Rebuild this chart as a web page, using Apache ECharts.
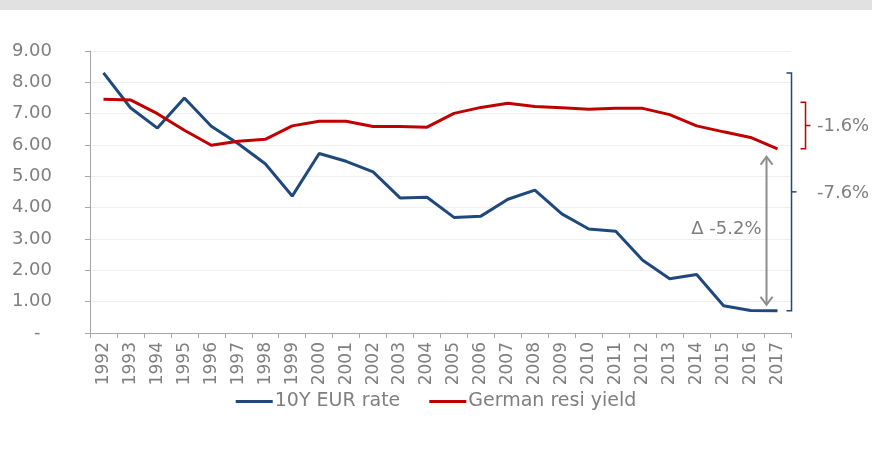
<!DOCTYPE html>
<html>
<head>
<meta charset="utf-8">
<script src="https://cdn.jsdelivr.net/npm/echarts@6/dist/echarts.min.js"></script>
<style>
  html, body { margin: 0; padding: 0; background: #fff; }
  #chart { width: 872px; height: 449px; }
</style>
</head>
<body>
<div id="chart"></div>
<script>
// Years on the category axis
const years = ['1992','1993','1994','1995','1996','1997','1998','1999','2000','2001','2002','2003','2004',
               '2005','2006','2007','2008','2009','2010','2011','2012','2013','2014','2015','2016','2017'];

// 10Y EUR rate (%)
const eurRate = [8.30, 7.19, 6.54, 7.50, 6.60, 6.04, 5.40, 4.37, 5.73, 5.48, 5.14, 4.31, 4.33,
                 3.69, 3.73, 4.27, 4.56, 3.80, 3.32, 3.25, 2.32, 1.73, 1.87, 0.87, 0.72, 0.71];

// German residential yield (%)
const resiYield = [7.46, 7.44, 7.00, 6.47, 5.99, 6.12, 6.18, 6.61, 6.76, 6.76, 6.59, 6.59, 6.57,
                   7.01, 7.20, 7.33, 7.23, 7.19, 7.14, 7.17, 7.17, 6.97, 6.61, 6.42, 6.24, 5.88];

const seriesNames = ['10Y EUR rate', 'German resi yield'];
const yTicks = { min: 0, max: 9, interval: 1 };

const BLUE = '#1f497d';
const RED = '#c00000';
const GREY_TEXT = '#7f7f7f';
const FONT = '"DejaVu Sans", Verdana, sans-serif';

const chart = echarts.init(document.getElementById('chart'), null, { renderer: 'canvas' });

chart.setOption({
  backgroundColor: '#ffffff',
  animation: false,
  textStyle: { fontFamily: FONT },
  grid: { left: 90, right: 81, top: 51, bottom: 116, containLabel: false },
  legend: {
    data: seriesNames,
    left: 'center',
    top: 387,
    icon: 'rect',
    itemWidth: 37,
    itemHeight: 3,
    itemGap: 29,
    textStyle: { color: GREY_TEXT, fontSize: 19, fontFamily: FONT, padding: [0, 0, 0, -3] }
  },
  xAxis: {
    type: 'category',
    data: years,
    boundaryGap: true,
    axisLine: { lineStyle: { color: '#a6a6a6', width: 1 } },
    axisTick: { show: true, length: 5, lineStyle: { color: '#a6a6a6' } },
    axisLabel: { rotate: 90, interval: 0, margin: 9, color: GREY_TEXT, fontSize: 17, fontFamily: FONT },
    splitLine: { show: false }
  },
  yAxis: {
    type: 'value',
    min: yTicks.min,
    max: yTicks.max,
    interval: yTicks.interval,
    axisLine: { show: true, lineStyle: { color: '#a6a6a6', width: 1 } },
    axisTick: { show: true, length: 5, lineStyle: { color: '#a6a6a6' } },
    axisLabel: {
      margin: 38,
      color: GREY_TEXT,
      fontSize: 18,
      fontFamily: FONT,
      formatter: v => (v === 0 ? '-  ' : v.toFixed(2))
    },
    splitLine: { show: true, lineStyle: { color: '#efefef', width: 1 } }
  },
  series: [
    {
      name: seriesNames[0],
      type: 'line',
      data: eurRate,
      symbol: 'none',
      lineStyle: { color: BLUE, width: 3 },
      itemStyle: { color: BLUE }
    },
    {
      name: seriesNames[1],
      type: 'line',
      data: resiYield,
      symbol: 'none',
      lineStyle: { color: RED, width: 3 },
      itemStyle: { color: RED }
    }
  ]
});

// Annotations: change brackets and the gap arrow, placed from the data through the axes
function px(i, v) { return chart.convertToPixel({ gridIndex: 0 }, [i, v]); }

const last = years.length - 1;
const blueTop = px(0, eurRate[0]);
const blueBot = px(last, eurRate[last]);
const redTop = px(0, resiYield[0]);
const redBot = px(last, resiYield[last]);
const lastX = blueBot[0];

const blueChange = (eurRate[last] - eurRate[0]).toFixed(1) + '%';
const redChange = (resiYield[last] - resiYield[0]).toFixed(1) + '%';
const gap = (eurRate[last] - resiYield[last]).toFixed(1) + '%';

function bracket(x, yTop, yBot, color) {
  return {
    type: 'polyline',
    shape: { points: [[x - 5, yTop], [x, yTop], [x, yBot], [x - 5, yBot]] },
    style: { stroke: color, lineWidth: 1.5, fill: null }
  };
}
function midTick(x, yTop, yBot, color) {
  const ym = (yTop + yBot) / 2;
  return {
    type: 'line',
    shape: { x1: x, y1: ym, x2: x + 5, y2: ym },
    style: { stroke: color, lineWidth: 1.5 }
  };
}

const bx = lastX + 14;
const rx = lastX + 28;
const ax = lastX - 11;
const aTop = redBot[1] + 8;
const aBot = blueBot[1] - 6;
const redTopY = redTop[1] + 3;

chart.setOption({
  graphic: [
    { type: 'rect', shape: { x: 0, y: 0, width: 872, height: 10 }, style: { fill: '#e1e1e1' }, z: 10 },
    bracket(bx, blueTop[1], blueBot[1], BLUE),
    midTick(bx, blueTop[1], blueBot[1], BLUE),
    bracket(rx, redTopY, redBot[1], RED),
    midTick(rx, redTopY, redBot[1], RED),
    {
      type: 'text',
      style: { x: 817, y: (blueTop[1] + blueBot[1]) / 2 + 1, text: blueChange, fill: GREY_TEXT,
               font: '18px ' + FONT, textVerticalAlign: 'middle', textAlign: 'left' }
    },
    {
      type: 'text',
      style: { x: 817, y: (redTopY + redBot[1]) / 2 + 1, text: redChange, fill: GREY_TEXT,
               font: '18px ' + FONT, textVerticalAlign: 'middle', textAlign: 'left' }
    },
    {
      type: 'line',
      shape: { x1: ax, y1: aTop, x2: ax, y2: aBot },
      style: { stroke: '#8c8c8c', lineWidth: 2 }
    },
    {
      type: 'polyline',
      shape: { points: [[ax - 6, aTop + 8], [ax, aTop], [ax + 6, aTop + 8]] },
      style: { stroke: '#8c8c8c', lineWidth: 2, fill: null }
    },
    {
      type: 'polyline',
      shape: { points: [[ax - 6, aBot - 8], [ax, aBot], [ax + 6, aBot - 8]] },
      style: { stroke: '#8c8c8c', lineWidth: 2, fill: null }
    },
    {
      type: 'text',
      style: { x: ax - 5, y: (aTop + aBot) / 2 - 1, text: 'Δ ' + gap, fill: GREY_TEXT,
               font: '18px ' + FONT, textVerticalAlign: 'middle', textAlign: 'right' }
    }
  ]
});
</script>
</body>
</html>
